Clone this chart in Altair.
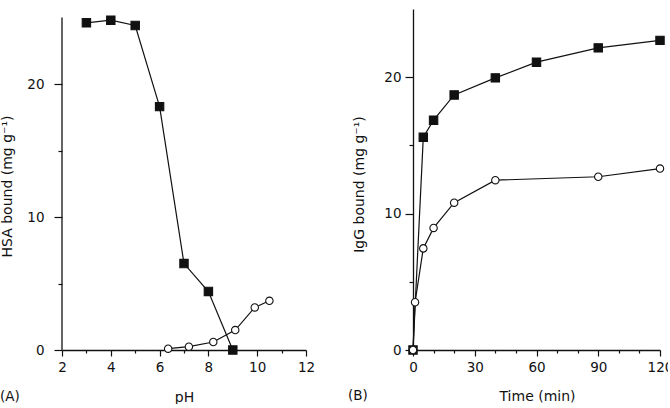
import altair as alt
import pandas as pd

# (A) HSA bound versus pH
ph_closed = [3, 4, 5, 6, 7, 8, 9]
hsa_closed = [24.6, 24.8, 24.4, 18.3, 6.5, 4.4, 0.0]
ph_open = [6.35, 7.2, 8.2, 9.1, 9.9, 10.5]
hsa_open = [0.1, 0.25, 0.6, 1.5, 3.2, 3.7]

# (B) IgG bound versus time
time_closed = [0, 5, 10, 20, 40, 60, 90, 120]
igg_closed = [0.0, 15.6, 16.85, 18.7, 19.95, 21.1, 22.15, 22.7]
time_open = [0, 1, 5, 10, 20, 40, 90, 120]
igg_open = [0.0, 3.5, 7.45, 8.95, 10.8, 12.45, 12.7, 13.3]

FONT = "DejaVu Sans"
INK = "#111111"
LABEL_SIZE = 13.5
TITLE_SIZE = 14


def series(xs, ys, xenc, yenc, shape, filled, size):
    df = pd.DataFrame({"x": xs, "y": ys})
    base = alt.Chart(df)
    line = base.mark_line(color=INK, strokeWidth=1.2, clip=False).encode(x=xenc, y=yenc)
    pts = base.mark_point(
        shape=shape,
        filled=True,
        fill=INK if filled else "white",
        stroke=INK,
        strokeWidth=1.1,
        size=size,
        opacity=1,
        clip=False,
    ).encode(x=xenc, y=yenc)
    return line, pts


# ---------- panel A ----------
ax_a_x = alt.Axis(
    values=list(range(2, 13)),
    labelExpr="datum.value % 2 === 0 ? datum.label : ''",
    tickSize={"condition": {"test": "datum.value % 2 === 0", "value": 6}, "value": 3},
    labelFlush=False,
    title="pH",
    labelPadding=4,
    titleX=122,
    titleY=47,
    titleBaseline="middle",
)
ax_a_y = alt.Axis(
    values=[0, 5, 10, 15, 20],
    labelExpr="datum.value % 10 === 0 ? datum.label : ''",
    tickSize={"condition": {"test": "datum.value % 10 === 0", "value": 8}, "value": 4},
    title="HSA bound (mg g\u207b\u00b9)",
    domain=False,
    labelPadding=10,
    titleX=-55,
    titleY=177,
    titleBaseline="middle",
)
xa = alt.X("x:Q", scale=alt.Scale(domain=[2, 12], nice=False, zero=False), axis=ax_a_x)
ya = alt.Y("y:Q", scale=alt.Scale(domain=[0, 25.64], nice=False), axis=ax_a_y)

a_line1, a_pts1 = series(ph_closed, hsa_closed, xa, ya, "square", True, 70)
a_line2, a_pts2 = series(ph_open, hsa_open, xa, ya, "circle", False, 55)

# left axis line of panel A stops at 25
a_axis_line = alt.Chart(pd.DataFrame({"x": [2], "y": [0], "y2": [25]})).mark_rule(
    color=INK, strokeWidth=1.3
).encode(x=xa, y=ya, y2="y2:Q")

a_tag = alt.Chart(pd.DataFrame({"t": ["(A)"]})).mark_text(
    align="left", baseline="middle", font=FONT, fontSize=LABEL_SIZE, color=INK
).encode(x=alt.value(-62), y=alt.value(388), text="t:N")

panel_a = alt.layer(a_axis_line, a_line1, a_line2, a_pts1, a_pts2, a_tag).properties(
    width=244, height=341
)

# ---------- panel B ----------
ax_b_x = alt.Axis(
    values=list(range(0, 121, 10)),
    labelExpr="datum.value % 30 === 0 ? datum.label : ''",
    tickSize={"condition": {"test": "datum.value % 30 === 0", "value": 6}, "value": 3},
    labelFlush=False,
    title="Time (min)",
    labelPadding=4,
    titleX=124,
    titleY=46,
    titleBaseline="middle",
)
ax_b_y = alt.Axis(
    values=[0, 5, 10, 15, 20],
    labelExpr="datum.value % 10 === 0 ? datum.label : ''",
    tickSize={"condition": {"test": "datum.value % 10 === 0", "value": 8}, "value": 4},
    title="IgG bound (mg g\u207b\u00b9)",
    labelPadding=4,
    titleX=-54,
    titleY=175,
    titleBaseline="middle",
)
xb = alt.X("x:Q", scale=alt.Scale(domain=[0, 120], nice=False), axis=ax_b_x)
yb = alt.Y("y:Q", scale=alt.Scale(domain=[0, 25], nice=False), axis=ax_b_y)

b_line1, b_pts1 = series(time_closed, igg_closed, xb, yb, "square", True, 70)
b_line2, b_pts2 = series(time_open, igg_open, xb, yb, "circle", False, 55)

b_tag = alt.Chart(pd.DataFrame({"t": ["(B)"]})).mark_text(
    align="left", baseline="middle", font=FONT, fontSize=LABEL_SIZE, color=INK
).encode(x=alt.value(-65), y=alt.value(387), text="t:N")

panel_b = alt.layer(b_line1, b_line2, b_pts1, b_pts2, b_tag).properties(
    width=247, height=341
)

# the last time label runs past the right edge of the page and is cut there
chart = (
    alt.hconcat(panel_a, panel_b, spacing=107, bounds="flush")
    .properties(padding={"left": 0, "top": 9, "right": -5, "bottom": 0})
    .configure_view(stroke=None)
    .configure_axis(
        grid=False,
        domainColor=INK,
        domainWidth=1.3,
        tickColor=INK,
        tickWidth=1.2,
        labelFont=FONT,
        labelFontSize=LABEL_SIZE,
        labelColor=INK,
        titleFont=FONT,
        titleFontSize=TITLE_SIZE,
        titleFontWeight="normal",
        titleColor=INK,
    )
)

chart.save("out.html", embed_options={"renderer": "svg", "actions": False})
